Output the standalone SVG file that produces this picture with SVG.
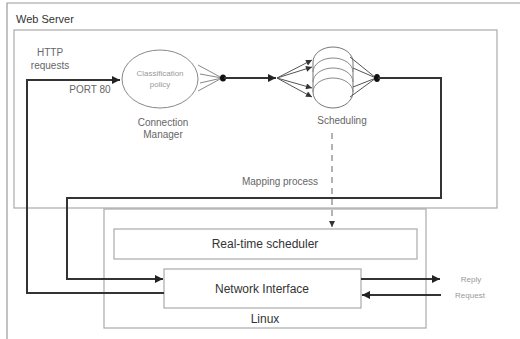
<svg xmlns="http://www.w3.org/2000/svg" width="520" height="339" viewBox="0 0 520 339">
<style>
text{font-family:"Liberation Sans",Arial,sans-serif;}
.box{fill:#fff;stroke:#aaa;stroke-width:1.2;}
.thin{fill:none;stroke:#888;stroke-width:1;}
.conn{fill:none;stroke:#333;stroke-width:2;}
.lbl{fill:#666;font-size:10px;text-anchor:middle;}
.lbl2{fill:#333;font-size:12px;text-anchor:middle;}
.sm{fill:#999;font-size:8px;text-anchor:middle;}
</style>
<defs>
<marker id="ah" viewBox="0 0 10 10" refX="10" refY="5" markerWidth="5" markerHeight="4" orient="auto" markerUnits="strokeWidth"><path d="M0,0 L10,5 L0,10 z" fill="#222"/></marker>
<marker id="ahs" viewBox="0 0 10 10" refX="10" refY="5" markerWidth="7" markerHeight="6" orient="auto" markerUnits="strokeWidth"><path d="M0,0 L10,5 L0,10 z" fill="#333"/></marker>
</defs>
<rect width="520" height="339" fill="#fff"/>
<g id="outer">
<path d="M7,339 V3 H520" fill="none" stroke="#999" stroke-width="1.2"/>
<text x="16" y="23" fill="#333" font-size="11">Web Server</text>
</g>
<g id="webserver"><rect class="box" x="14" y="30" width="483" height="178"/></g>
<g id="linux"><rect class="box" x="104" y="209" width="322" height="119"/>
<text class="lbl2" x="265" y="323">Linux</text></g>
<g id="rts"><rect class="box" x="114" y="229" width="303" height="30"/>
<text class="lbl2" x="265" y="248">Real-time scheduler</text></g>
<g id="ni"><rect class="box" x="164" y="269" width="197" height="39"/>
<text class="lbl2" x="262" y="293">Network Interface</text></g>
<g id="cm">
<ellipse cx="160" cy="79" rx="38" ry="29" fill="#fff" stroke="#888" stroke-width="1"/>
<text class="sm" x="160" y="76">Classification</text>
<text class="sm" x="160" y="87">policy</text>
<text class="lbl" x="163" y="126">Connection</text>
<text class="lbl" x="163" y="138">Manager</text>
</g>
<g id="sched">
<path d="M313,62 A20,15 0 0 1 353,62 V92 A20,16 0 0 1 313,92 Z" fill="#fff" stroke="#777" stroke-width="1"/>
<path class="thin" stroke="#777" d="M313,72 A20,14 0 0 1 353,72"/>
<path class="thin" stroke="#777" d="M313,82 A20,14 0 0 1 353,82"/>
<path class="thin" stroke="#777" d="M313,92 A20,14 0 0 1 353,92"/>
<text class="lbl" x="342" y="124">Scheduling</text>
</g>
<g id="texts">
<text class="lbl" x="50" y="56" font-size="9">HTTP</text>
<text class="lbl" x="50" y="69" font-size="9">requests</text>
<text class="lbl" x="90" y="93" font-size="9">PORT 80</text>
<text class="lbl" x="280" y="185">Mapping process</text>
<text class="sm" x="471" y="282">Reply</text>
<text class="sm" x="470" y="298">Request</text>
</g>
<g id="connectors">
<path class="conn" d="M164,293 H27 V80 H120" marker-end="url(#ah)"/>
<path class="thin" stroke="#555" d="M198,65 L222,78 M200,74 L222,78 M200,83 L222,78 M198,91 L222,78"/>
<ellipse cx="223" cy="78" rx="3" ry="3.5" fill="#111"/>
<path class="conn" d="M224,78 H276" marker-end="url(#ah)"/>
<g stroke="#555" stroke-width="1" fill="none">
<path d="M277,78 L312,60" marker-end="url(#ahs)"/>
<path d="M277,78 L312,67" marker-end="url(#ahs)"/>
<path d="M277,78 L312,88" marker-end="url(#ahs)"/>
<path d="M277,78 L312,97" marker-end="url(#ahs)"/>
<path d="M350,57 L376,78 M353,68 L376,78 M353,87 L376,78 M350,97 L376,78"/>
</g>
<ellipse cx="377" cy="78" rx="3" ry="4" fill="#111"/>
<path class="conn" d="M378,78 H441 V198 H67 V279 H163" marker-end="url(#ah)"/>
<path class="conn" d="M361,279 H440" marker-end="url(#ah)"/>
<path class="conn" d="M441,295 H362" marker-end="url(#ah)"/>
<path d="M332,133 V227" fill="none" stroke="#666" stroke-width="1" stroke-dasharray="6,5" marker-end="url(#ahs)"/>
</g>
</svg>
